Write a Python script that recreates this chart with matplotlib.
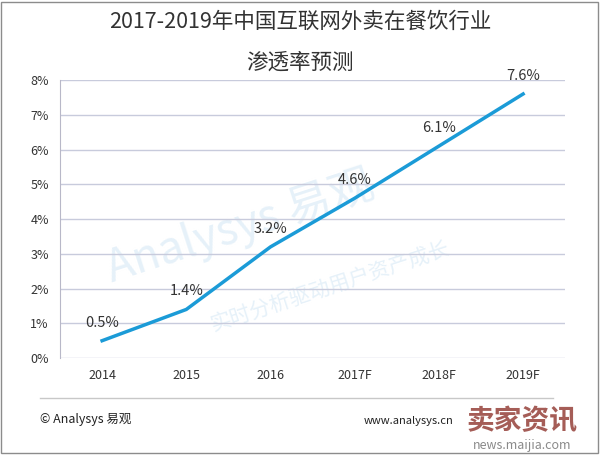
import matplotlib.pyplot as plt
from matplotlib.patches import Rectangle
from matplotlib.lines import Line2D

plt.rcParams['font.family'] = ['Noto Sans CJK SC', 'DejaVu Sans']

# Data
years = ['2014', '2015', '2016', '2017F', '2018F', '2019F']
rates = [0.5, 1.4, 3.2, 4.6, 6.1, 7.6]
labels = ['0.5%', '1.4%', '3.2%', '4.6%', '6.1%', '7.6%']
yticks = [0, 1, 2, 3, 4, 5, 6, 7, 8]

fig = plt.figure(figsize=(6, 4.55), dpi=100)
ax = fig.add_axes([0.1, 0.213, 0.842, 0.611])
ax.set_facecolor('none')

x = list(range(len(years)))
ax.plot(x, rates, color='#1b9bd7', linewidth=2.5, zorder=3)
for xi, yi, lab in zip(x, rates, labels):
    ax.annotate(lab, (xi, yi), xytext=(0, 8), textcoords='offset points',
                ha='center', va='bottom', fontsize=10.5, color='#333333')

ax.set_xlim(-0.5, 5.5)
ax.set_ylim(0, 8)
ax.set_xticks(x)
ax.set_xticklabels(years, fontsize=9, color='#333333')
ax.set_yticks(yticks)
ax.set_yticklabels([f'{v}%' for v in yticks], fontsize=9, color='#333333')
ax.tick_params(length=0, pad=8)
ax.yaxis.grid(True, color='#c8cbdc', linewidth=1)
ax.set_axisbelow(True)
for s in ['top', 'right', 'bottom']:
    ax.spines[s].set_visible(False)
ax.spines['left'].set_color('#b8b8c8')

# Watermark (faint, behind the plot)
fig.text(0.4, 0.5, 'Analysys 易观', fontsize=32, color='#e6f1f9', rotation=18,
         ha='center', va='center', style='italic', zorder=-1)
fig.text(0.55, 0.37, '实时分析驱动用户资产成长', fontsize=15, color='#e6f1f9',
         rotation=18, ha='center', va='center', zorder=-1)

# Title
fig.text(0.5, 0.951, '2017-2019年中国互联网外卖在餐饮行业', fontsize=15.5,
         ha='center', va='center', color='#333333')
fig.text(0.5, 0.862, '渗透率预测', fontsize=15.5, ha='center', va='center',
         color='#333333')

# Footer
fig.add_artist(Line2D([0.067, 0.922], [0.125, 0.125], color='#c8c8c8',
                      linewidth=1, transform=fig.transFigure))
fig.text(0.067, 0.077, '© Analysys 易观', fontsize=9, ha='left', va='center',
         color='#222222')
fig.text(0.755, 0.075, 'www.analysys.cn', fontsize=8, ha='right', va='center',
         color='#222222')
fig.text(0.87, 0.075, '卖家资讯', fontsize=20, ha='center', va='center',
         color='#9b4b45', fontweight='bold', alpha=0.9)
fig.text(0.87, 0.02, 'news.maijia.com', fontsize=9, ha='center', va='center',
         color='#8a8a8a')

# Outer border
fig.add_artist(Rectangle((0.002, 0.004), 0.994, 0.992, fill=False,
                         edgecolor='#8c8c8c', linewidth=1,
                         transform=fig.transFigure))

fig.savefig('out.png', dpi=100)
